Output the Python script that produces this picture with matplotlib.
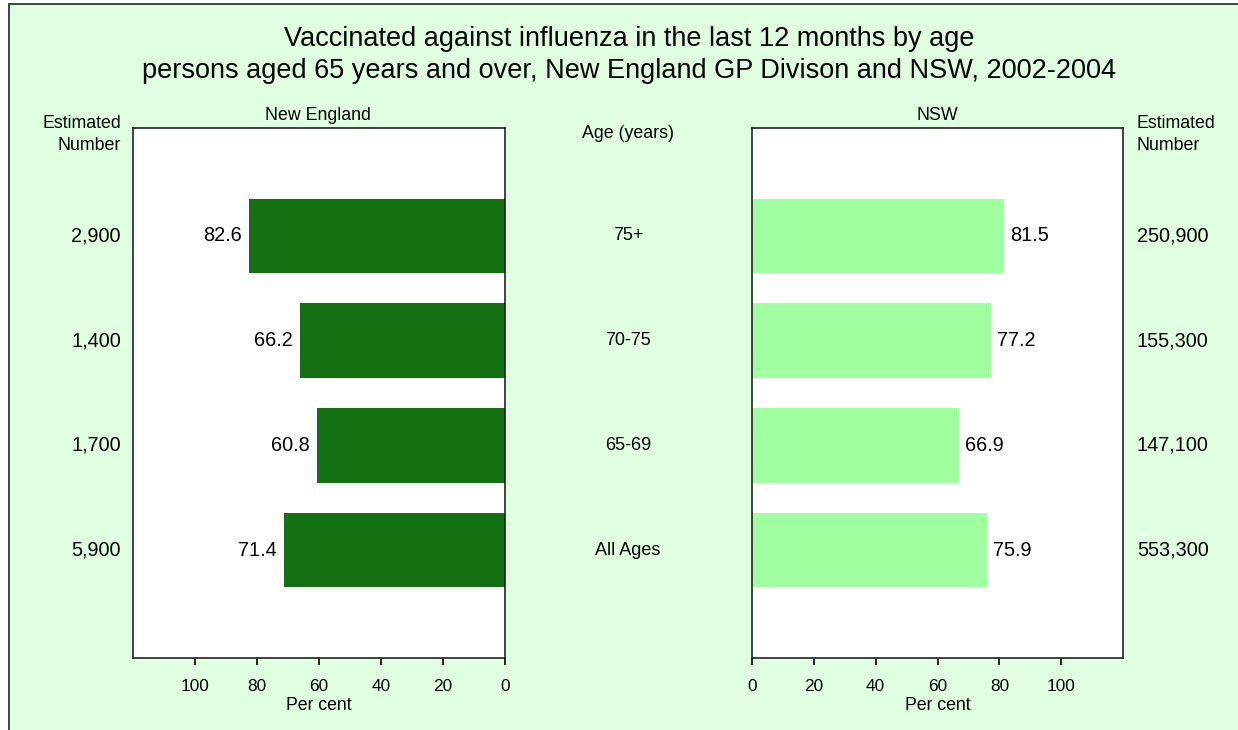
import matplotlib
matplotlib.use("Agg")
import matplotlib.pyplot as plt
import matplotlib.transforms as mtransforms
from matplotlib.patches import Rectangle

plt.rcParams['font.family'] = ['Liberation Sans', 'DejaVu Sans']

categories = ["75+", "70-75", "65-69", "All Ages"]
ne_values = [82.6, 66.2, 60.8, 71.4]
nsw_values = [81.5, 77.2, 66.9, 75.9]
ne_numbers = ["2,900", "1,400", "1,700", "5,900"]
nsw_numbers = ["250,900", "155,300", "147,100", "553,300"]
xticks = [0, 20, 40, 60, 80, 100]

W, H = 1238, 730
fig = plt.figure(figsize=(W / 100, H / 100), dpi=100)
fig.patch.set_facecolor("white")

def fx(px):
    return px / W

def fy(py):
    return 1 - py / H

bg = Rectangle((fx(9), -0.1), 1.2, fy(4) + 0.1, transform=fig.transFigure,
               facecolor="#E0FFE0", edgecolor="#222222", linewidth=1.2, zorder=-10)
fig.patches.append(bg)

title = ("Vaccinated against influenza in the last 12 months by age\n"
         "persons aged 65 years and over, New England GP Divison and NSW, 2002-2004")
fig.text(fx(629), fy(55), title, ha="center", va="center", fontsize=19.5, linespacing=1.28)

ax_b = fy(658)
ax_h = fy(128) - fy(658)
axL = fig.add_axes([fx(133), ax_b, fx(505) - fx(133), ax_h])
axR = fig.add_axes([fx(752), ax_b, fx(1123) - fx(752), ax_h])

ypos = list(range(len(categories)))

dark = "#137113"
light = "#A0FFA0"

axL.barh(ypos, ne_values, height=0.71, color=dark)
axR.barh(ypos, nsw_values, height=0.71, color=light)

for ax in (axL, axR):
    ax.set_facecolor("white")
    ax.set_ylim(4.03, -1.03)
    ax.set_yticks([])
    ax.set_xticks(xticks)
    ax.set_xticklabels([str(t) for t in xticks], fontsize=12.4)
    ax.tick_params(axis="x", direction="out", length=5, width=1.2, pad=10, colors="black")
    for s in ax.spines.values():
        s.set_color("#222222")
        s.set_linewidth(1.2)
    ax.set_xlabel("Per cent", fontsize=12.7, labelpad=2)

axL.set_xlim(120, 0)
axR.set_xlim(0, 120)

for y, v in zip(ypos, ne_values):
    axL.annotate(f"{v:.1f}", xy=(v, y), xytext=(-7, 0), textcoords="offset pixels",
                 ha="right", va="center", fontsize=14.3)
for y, v in zip(ypos, nsw_values):
    axR.annotate(f"{v:.1f}", xy=(v, y), xytext=(6, 0), textcoords="offset pixels",
                 ha="left", va="center", fontsize=14.3)

# side labels
fig.text(fx(318), fy(115), "New England", ha="center", va="center", fontsize=12.8)
fig.text(fx(937), fy(115), "NSW", ha="center", va="center", fontsize=12.8)
fig.text(fx(628), fy(134), "Age (years)", ha="center", va="center", fontsize=12.8)
fig.text(fx(121), fy(134.5), "Estimated\nNumber", ha="right", va="center", fontsize=12.8,
         multialignment="right", linespacing=1.45)
fig.text(fx(1137), fy(134.5), "Estimated\nNumber", ha="left", va="center", fontsize=12.8,
         multialignment="left", linespacing=1.45)

# category and number labels aligned with bars
transL = mtransforms.blended_transform_factory(fig.transFigure, axL.transData)
for y, cat, nl, nr in zip(ypos, categories, ne_numbers, nsw_numbers):
    fig.text(fx(628), y, cat, transform=transL, ha="center", va="center", fontsize=13)
    fig.text(fx(121), y, nl, transform=transL, ha="right", va="center", fontsize=14.3)
    fig.text(fx(1137), y, nr, transform=transL, ha="left", va="center", fontsize=14.3)

fig.savefig("out.png", dpi=100, facecolor=fig.get_facecolor())
